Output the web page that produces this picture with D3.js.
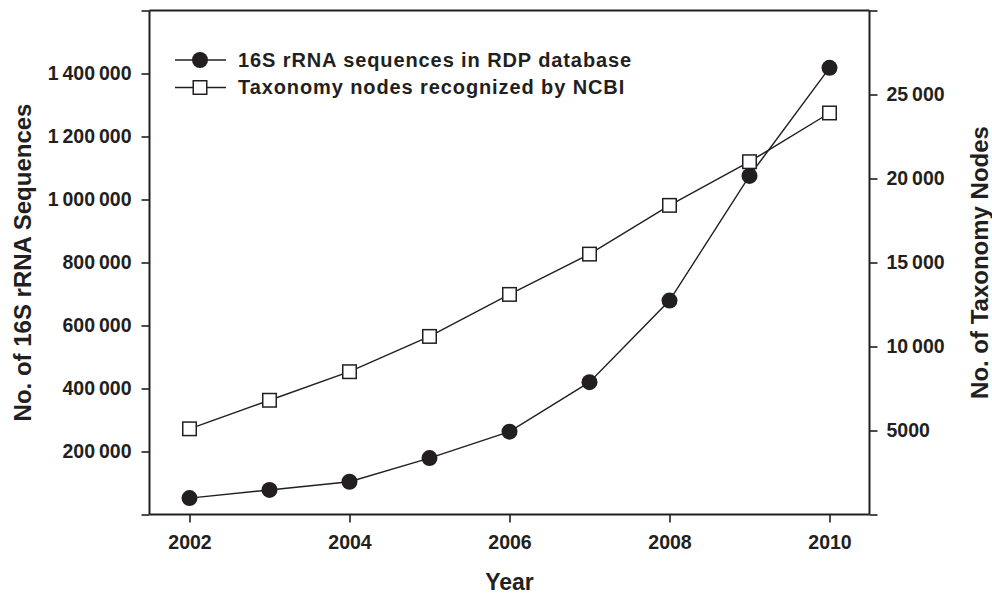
<!DOCTYPE html>
<html>
<head>
    <meta charset="utf-8" />
    <script src="https://cdn.jsdelivr.net/npm/d3@7"></script>
    <style>
        body { margin: 0; background: #fff; }
        text { font-family: "Liberation Sans", Arial, Helvetica, sans-serif; font-weight: bold; fill: #231f20; }
    </style>
</head>
<body>
</body>

<script>
    // data
    var years = [2002, 2003, 2004, 2005, 2006, 2007, 2008, 2009, 2010];
    var rdpSeqs = [52000, 78000, 104000, 179000, 263000, 420000, 679000, 1075000, 1418000];
    var taxNodes = [5100, 6800, 8500, 10600, 13100, 15500, 18400, 21000, 23900];

    var xTicks = [2002, 2004, 2006, 2008, 2010];
    var leftTicks = [0, 200000, 400000, 600000, 800000, 1000000, 1200000, 1400000, 1600000];
    var rightTicks = [0, 5000, 10000, 15000, 20000, 25000, 30000];
    var legendLabels = ["16S rRNA sequences in RDP database", "Taxonomy nodes recognized by NCBI"];

    var ink = "#231f20";
    var W = 992, H = 596;
    // plot box (window.top is reserved, so prefix everything)
    var plotL = 149.5, plotR = 869.5, plotT = 10.5, plotB = 514.5;

    var svg = d3.select("body").append("svg")
                .attr("width", W)
                .attr("height", H);

    var x = d3.scaleLinear().domain([2001.5, 2010.5]).range([plotL, plotR]);
    var yL = d3.scaleLinear().domain([0, 1600000]).range([plotB, plotT]);
    var yR = d3.scaleLinear().domain([0, 30000]).range([plotB, plotT]);

    // thousands separated by a thin space, 4 digit numbers left alone
    var loc = d3.formatLocale({ decimal: ".", thousands: "\u2009", grouping: [3], currency: ["", ""] });
    var fmt = loc.format(",d");
    function label(v, max) {
        if (v === 0 || v === max) return "";
        return v >= 10000 ? fmt(v) : String(v);
    }

    // axes
    var gL = svg.append("g")
        .attr("transform", "translate(" + plotL + ",0)")
        .call(d3.axisLeft(yL).tickValues(leftTicks).tickSize(8).tickPadding(10)
              .tickFormat(function (d) { return label(d, 1600000); }));
    var gR = svg.append("g")
        .attr("transform", "translate(" + plotR + ",0)")
        .call(d3.axisRight(yR).tickValues(rightTicks).tickSize(8).tickPadding(9)
              .tickFormat(function (d) { return label(d, 30000); }));
    var gX = svg.append("g")
        .attr("transform", "translate(0," + plotB + ")")
        .call(d3.axisBottom(x).tickValues(xTicks).tickSize(8).tickPadding(13)
              .tickFormat(d3.format("d")));

    [gL, gR, gX].forEach(function (g) {
        g.attr("font-family", null).attr("font-size", null);
        g.select(".domain").attr("stroke", ink).attr("stroke-width", 2);
        g.selectAll(".tick line").attr("stroke", ink).attr("stroke-width", 1.6);
        g.selectAll(".tick text").attr("fill", ink).style("font-size", "19.5px");
    });
    // plain domain lines, no end caps
    gX.select(".domain").attr("d", "M" + plotL + ",0H" + plotR);
    gL.select(".domain").attr("d", "M0," + plotT + "V" + plotB);
    gR.select(".domain").attr("d", "M0," + plotT + "V" + plotB);

    // top frame line
    svg.append("line")
       .attr("x1", plotL).attr("x2", plotR)
       .attr("y1", plotT).attr("y2", plotT)
       .attr("stroke", ink).attr("stroke-width", 2);

    // axis titles
    var midY = (plotT + plotB) / 2;
    svg.append("text")
       .attr("transform", "translate(31," + midY + ") rotate(-90)")
       .attr("text-anchor", "middle")
       .style("font-size", "24px")
       .text("No. of 16S rRNA Sequences");
    svg.append("text")
       .attr("transform", "translate(988," + midY + ") rotate(-90)")
       .attr("text-anchor", "middle")
       .style("font-size", "24px")
       .text("No. of Taxonomy Nodes");
    svg.append("text")
       .attr("x", (plotL + plotR) / 2)
       .attr("y", 590)
       .attr("text-anchor", "middle")
       .style("font-size", "23px")
       .text("Year");

    // lines
    var lineL = d3.line()
        .x(function (d, i) { return x(years[i]); })
        .y(function (d) { return yL(d); });
    var lineR = d3.line()
        .x(function (d, i) { return x(years[i]); })
        .y(function (d) { return yR(d); });

    svg.append("path").datum(taxNodes)
       .attr("d", lineR)
       .attr("fill", "none").attr("stroke", ink).attr("stroke-width", 1.4);
    svg.append("path").datum(rdpSeqs)
       .attr("d", lineL)
       .attr("fill", "none").attr("stroke", ink).attr("stroke-width", 1.4);

    // markers
    var sq = 13.5;
    svg.selectAll("rect.tax")
       .data(taxNodes)
       .enter()
       .append("rect")
       .attr("class", "tax")
       .attr("x", function (d, i) { return x(years[i]) - sq / 2; })
       .attr("y", function (d) { return yR(d) - sq / 2; })
       .attr("width", sq).attr("height", sq)
       .attr("fill", "#fff").attr("stroke", ink).attr("stroke-width", 1.5);

    svg.selectAll("circle.rdp")
       .data(rdpSeqs)
       .enter()
       .append("circle")
       .attr("class", "rdp")
       .attr("cx", function (d, i) { return x(years[i]); })
       .attr("cy", function (d) { return yL(d); })
       .attr("r", 8)
       .attr("fill", ink);

    // legend
    var legY = [60, 87.5];
    var leg = svg.selectAll("g.leg")
       .data(legendLabels)
       .enter()
       .append("g")
       .attr("class", "leg")
       .attr("transform", function (d, i) { return "translate(0," + legY[i] + ")"; });

    leg.append("line")
       .attr("x1", 175).attr("x2", 226)
       .attr("y1", 0).attr("y2", 0)
       .attr("stroke", ink).attr("stroke-width", 1.6);
    leg.filter(function (d, i) { return i === 0; })
       .append("circle")
       .attr("cx", 200).attr("cy", 0).attr("r", 8)
       .attr("fill", ink);
    leg.filter(function (d, i) { return i === 1; })
       .append("rect")
       .attr("x", 200 - sq / 2).attr("y", -sq / 2)
       .attr("width", sq).attr("height", sq)
       .attr("fill", "#fff").attr("stroke", ink).attr("stroke-width", 1.5);
    leg.append("text")
       .attr("x", 238)
       .attr("y", 6.5)
       .style("font-size", "20px")
       .style("letter-spacing", "0.9px")
       .text(function (d) { return d; });
</script>

</html>
